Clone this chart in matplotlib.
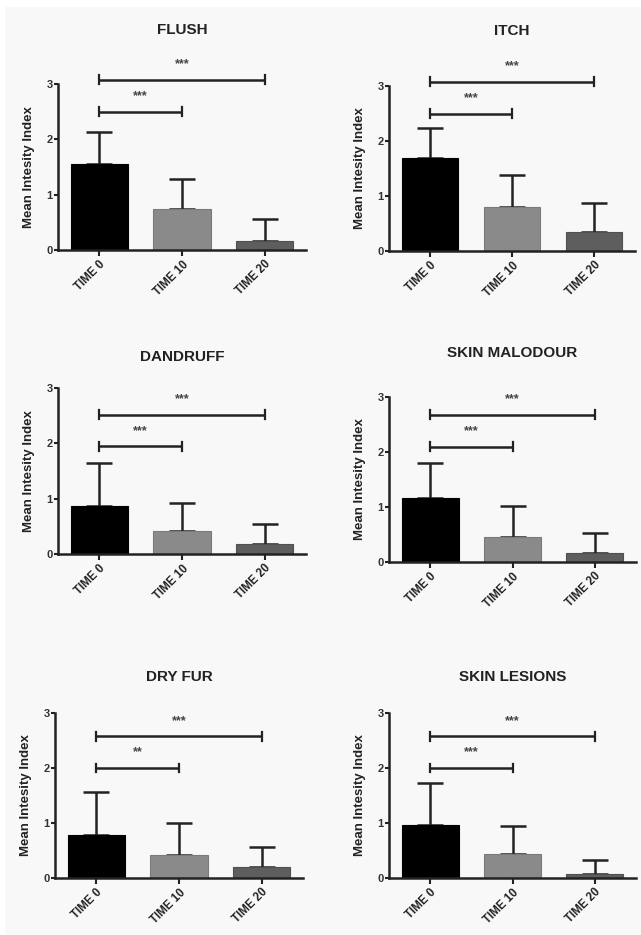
import matplotlib
matplotlib.use("Agg")
import matplotlib.pyplot as plt
from matplotlib.patches import Rectangle

plt.rcParams['font.family'] = ['Liberation Sans', 'DejaVu Sans']

categories = ["TIME 0", "TIME 10", "TIME 20"]
titles = ["FLUSH", "ITCH", "DANDRUFF", "SKIN MALODOUR", "DRY FUR", "SKIN LESIONS"]
means = {
    "FLUSH": [1.56, 0.74, 0.16],
    "ITCH": [1.69, 0.80, 0.35],
    "DANDRUFF": [0.87, 0.41, 0.18],
    "SKIN MALODOUR": [1.16, 0.45, 0.16],
    "DRY FUR": [0.78, 0.42, 0.20],
    "SKIN LESIONS": [0.96, 0.44, 0.08],
}
sd_upper = {
    "FLUSH": [0.58, 0.55, 0.40],
    "ITCH": [0.55, 0.58, 0.52],
    "DANDRUFF": [0.78, 0.51, 0.36],
    "SKIN MALODOUR": [0.64, 0.57, 0.37],
    "DRY FUR": [0.79, 0.58, 0.37],
    "SKIN LESIONS": [0.76, 0.50, 0.24],
}
# significance brackets: (level of 0 vs 10, level of 0 vs 20)
bracket_y = {
    "FLUSH": (2.50, 3.08),
    "ITCH": (2.50, 3.08),
    "DANDRUFF": (1.95, 2.52),
    "SKIN MALODOUR": (2.10, 2.68),
    "DRY FUR": (2.00, 2.58),
    "SKIN LESIONS": (2.00, 2.58),
}
bracket_lbl = {
    "FLUSH": ("***", "***"),
    "ITCH": ("***", "***"),
    "DANDRUFF": ("***", "***"),
    "SKIN MALODOUR": ("***", "***"),
    "DRY FUR": ("**", "***"),
    "SKIN LESIONS": ("***", "***"),
}
bar_colors = ["#000000", "#8a8a8a", "#5e5e5e"]
bar_edges = ["#000000", "#7a7a7a", "#505050"]

W, H = 641, 935
fig = plt.figure(figsize=(W / 100, H / 100), dpi=100)
fig.patch.set_facecolor("white")
fig.add_artist(Rectangle((5 / W, 0), 1 - 5 / W, 1 - 7 / H, transform=fig.transFigure,
                         facecolor="#f8f8f8", edgecolor="none", zorder=-10))

# axes boxes in pixels: left, right, top(y=3), bottom(y=0), title centre y
boxes = [
    (58, 306, 84, 250, 30),
    (389, 635, 86, 251, 31),
    (58, 306, 388, 554, 357),
    (389, 636, 397, 562, 353),
    (55, 303, 713, 878, 677),
    (389, 636, 713, 878, 677),
]

for title, (l, r, t, b, ty) in zip(titles, boxes):
    ax = fig.add_axes([l / W, 1 - b / H, (r - l) / W, (b - t) / H])
    ax.set_facecolor("none")
    x = list(range(len(categories)))
    ax.bar(x, means[title], width=0.69, color=bar_colors, edgecolor=bar_edges,
           linewidth=0.8, zorder=2)
    ax.errorbar(x, means[title], yerr=[[0, 0, 0], sd_upper[title]], fmt="none",
                ecolor="#222222", elinewidth=1.8, capsize=9.5, capthick=1.8, zorder=1)
    ax.set_xlim(-0.5, 2.5)
    ax.set_ylim(0, 3)
    ax.set_yticks([0, 1, 2, 3])
    ax.set_xticks(x)
    ax.set_xticklabels(categories, rotation=45, ha="right", rotation_mode="anchor",
                       fontsize=8.3, fontweight="bold", color="#222222")
    for lab in ax.get_yticklabels():
        lab.set_fontsize(8)
        lab.set_fontweight("bold")
        lab.set_color("#333333")
    for s in ["top", "right"]:
        ax.spines[s].set_visible(False)
    for s in ["left", "bottom"]:
        ax.spines[s].set_linewidth(1.8)
        ax.spines[s].set_color("#222222")
    ax.tick_params(axis="y", width=1.5, length=3, color="#222222", pad=1)
    ax.tick_params(axis="x", width=1.5, length=4, color="#222222", pad=2)
    ax.set_ylabel("Mean Intesity Index", fontsize=9.5, fontweight="bold", color="#222222",
                  labelpad=8)
    xc = ax.transData.transform((1, 0))[0]
    fig.text(xc / (W), 1 - ty / H, title, ha="center", va="center",
             fontsize=11, fontweight="bold", color="#222222")

    y1, y2 = bracket_y[title]
    l1, l2 = bracket_lbl[title]
    for (xa, xb, yy, lbl) in [(0, 1, y1, l1), (0, 2, y2, l2)]:
        ax.plot([xa, xb], [yy, yy], color="#222222", lw=1.8, clip_on=False,
                solid_capstyle="butt")
        for xx in (xa, xb):
            ax.plot([xx, xx], [yy - 0.08, yy + 0.08], color="#222222", lw=1.6,
                    clip_on=False)
        ax.text((xa + xb) / 2, yy + 0.17, lbl, ha="center", va="bottom",
                fontsize=9, fontweight="bold", color="#444444", clip_on=False)

fig.savefig("out.png", dpi=100, facecolor=fig.get_facecolor())
